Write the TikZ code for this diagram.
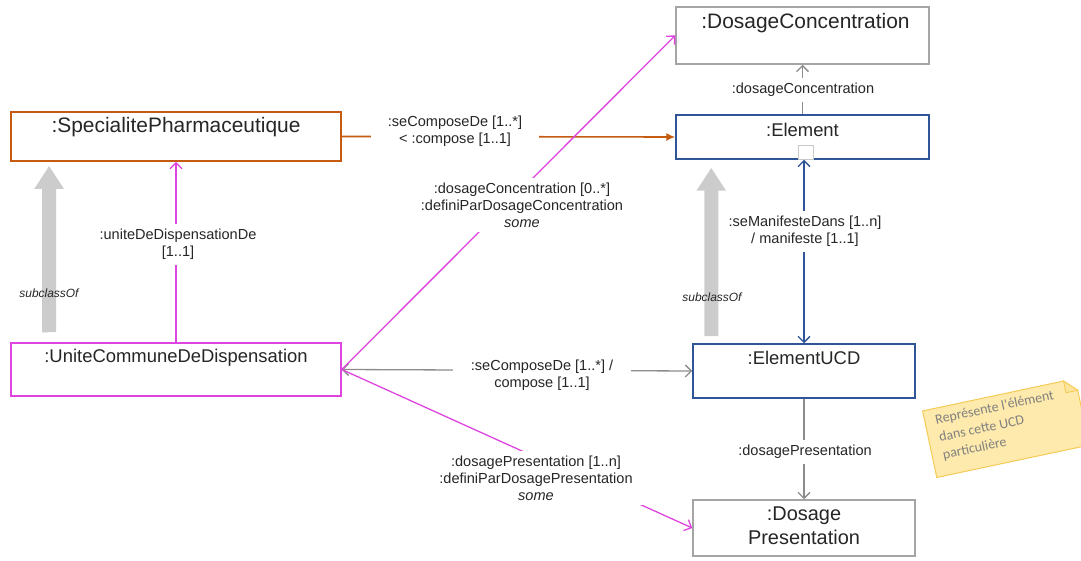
\documentclass[tikz,border=0pt]{standalone}
\usepackage{fontspec}
\setmainfont{Liberation Sans}
\newfontfamily\notefont{Carlito}
\usetikzlibrary{arrows.meta,positioning}

\definecolor{specOrange}{RGB}{197,90,17}
\definecolor{elemBlue}{RGB}{47,85,151}
\definecolor{ucdMagenta}{RGB}{222,68,222}
\definecolor{boxGray}{RGB}{165,165,165}
\definecolor{linkGray}{RGB}{140,140,140}
\definecolor{subGray}{RGB}{204,204,204}
\definecolor{noteFill}{RGB}{254,234,172}
\definecolor{noteLine}{RGB}{246,202,86}
\definecolor{txtDark}{RGB}{38,38,38}

\tikzset{
	umlbox/.style={draw, line width=1.5bp, fill=white, inner sep=0pt},
	boxtitle/.style={anchor=base, inner sep=0pt, text=txtDark, font=\fontsize{18.5}{22}\selectfont},
	bigtitle/.style={boxtitle, font=\fontsize{21}{25}\selectfont},
	linklabel/.style={fill=white, inner xsep=4bp, inner ysep=5bp, align=center, text=txtDark, font=\fontsize{14.6}{17}\selectfont},
	sublabel/.style={inner sep=1bp, text=txtDark, font=\fontsize{12}{14}\selectfont\itshape},
	barb/.style={-{Straight Barb[length=6bp,width=12bp]}},
	twoway/.style={{Straight Barb[length=6bp,width=12bp]}-{Straight Barb[length=6bp,width=12bp]}},
	orangelink/.style={draw=specOrange, line width=1.6bp, -{Latex[length=9bp,width=8bp]}},
	graylink/.style={draw=linkGray, line width=1.3bp},
	bluelink/.style={draw=elemBlue, line width=1.3bp},
	maglink/.style={draw=ucdMagenta, line width=1.3bp},
	subclass/.style={draw=subGray, line width=14bp, -{Triangle[length=23bp,width=28bp]}},
	notetext/.style={inner sep=0pt, align=left, text={rgb,255:red,128;green,128;blue,128}, font=\notefont\fontsize{14}{18}\selectfont}
}

\begin{document}
\begin{tikzpicture}[x=1bp, y=-1bp]
	\useasboundingbox (0,0) rectangle (1081,561);

	% classes
	\node[umlbox, draw=boxGray, minimum width=253bp, minimum height=57bp] (dc) at (802.5,35.5) {};
	\node[umlbox, draw=elemBlue, minimum width=253bp, minimum height=44bp] (element) at (802.5,137) {};
	\node[umlbox, draw=specOrange, line width=1.8bp, minimum width=330bp, minimum height=49bp] (sp) at (176,136.5) {};
	\node[umlbox, draw=ucdMagenta, minimum width=330bp, minimum height=53bp] (ucd) at (176,369.5) {};
	\node[umlbox, draw=elemBlue, minimum width=222bp, minimum height=54bp] (eucd) at (804,371) {};
	\node[umlbox, draw=boxGray, minimum width=222bp, minimum height=56bp] (dp) at (804,528) {};
	\node[draw={rgb,255:red,200;green,200;blue,200}, line width=0.8bp, fill=white, minimum width=15bp, minimum height=14bp, inner sep=0pt, anchor=south] (elTab) at ([xshift=3bp]element.south) {};

	\node[bigtitle] (dcTitle) at ([yshift=-22bp,xshift=3bp]dc.north) {:DosageConcentration};
	\node[boxtitle] (elementTitle) at ([yshift=-22bp]element.north) {:Element};
	\node[bigtitle] (spTitle) at ([yshift=-21bp]sp.north) {:SpecialitePharmaceutique};
	\node[boxtitle] (ucdTitle) at ([yshift=-20bp]ucd.north) {:UniteCommuneDeDispensation};
	\node[boxtitle] (eucdTitle) at ([yshift=-21bp]eucd.north) {:ElementUCD};
	\node[boxtitle, anchor=north, align=center, font=\fontsize{20}{24}\selectfont] (dpTitle) at ([yshift=-7bp]dp.north) {:Dosage\\Presentation};

	% subclassOf
	\draw[subclass] ([xshift=39bp,yshift=10bp]ucd.north west) -- ([xshift=39bp,yshift=-4bp]sp.south west);
	\draw[subclass] ([xshift=19bp,yshift=7bp]eucd.north west) -- ([xshift=36bp,yshift=-8bp]element.south west);
	\node[sublabel] (subLeft) at (49,293) {subclassOf};
	\node[sublabel] (subRight) at (712,297) {subclassOf};

	% links
	\draw[orangelink] (sp.east) -- (element.west);
	\draw[graylink, barb] (element.north) -- (dc.south);
	\draw[bluelink, twoway] (element.south -| eucd.north) -- (eucd.north);
	\draw[graylink, twoway] (ucd.east) -- (eucd.west);
	\draw[graylink, barb] (eucd.south) -- (dp.north);
	\draw[maglink, barb] (ucd.north) -- (sp.south);
	\draw[maglink, barb] (ucd.east) -- (dc.west);
	\draw[maglink, barb] (ucd.east) -- (dp.west);

	% link labels
	\node[linklabel, inner xsep=17bp] (composeLbl) at (455,131) {:seComposeDe [1..*]\\< :compose [1..1]};
	\node[linklabel] (dcLbl) at (803,90) {:dosageConcentration};
	\node[linklabel] (manifLbl) at (805,231.5) {:seManifesteDans [1..n]\\/ manifeste [1..1]};
	\node[linklabel, inner xsep=18bp] (ucdCompLbl) at (542,375.5) {:seComposeDe [1..*] /\\compose [1..1]};
	\node[linklabel] (dpLbl) at (805,452) {:dosagePresentation};
	\node[linklabel] (uniteLbl) at (178,244.5) {:uniteDeDispensationDe\\{[1..1]}};
	\node[linklabel] (defDcLbl) at (522,205) {:dosageConcentration [0..*]\\:definiParDosageConcentration\\\textit{some}};
	\node[linklabel, inner xsep=12bp] (defDpLbl) at (536,478) {:dosagePresentation [1..n]\\:definiParDosagePresentation\\\textit{some}};

	% note
	\begin{scope}[shift={(1006,428)}, rotate=12]
		\draw[draw=noteLine, fill=noteFill, line width=1bp] (-78,-34) -- (66,-34) -- (78,-22) -- (78,34) -- (-78,34) -- cycle;
		\draw[draw=noteLine, fill=noteFill!80!noteLine, line width=0.8bp] (66,-34) -- (66,-22) -- (78,-22) -- cycle;
		\node[notetext, anchor=north west, transform shape] (note) at (-67.5,-28) {Représente l'élément\\dans cette UCD\\particulière};
	\end{scope}
\end{tikzpicture}
\end{document}
